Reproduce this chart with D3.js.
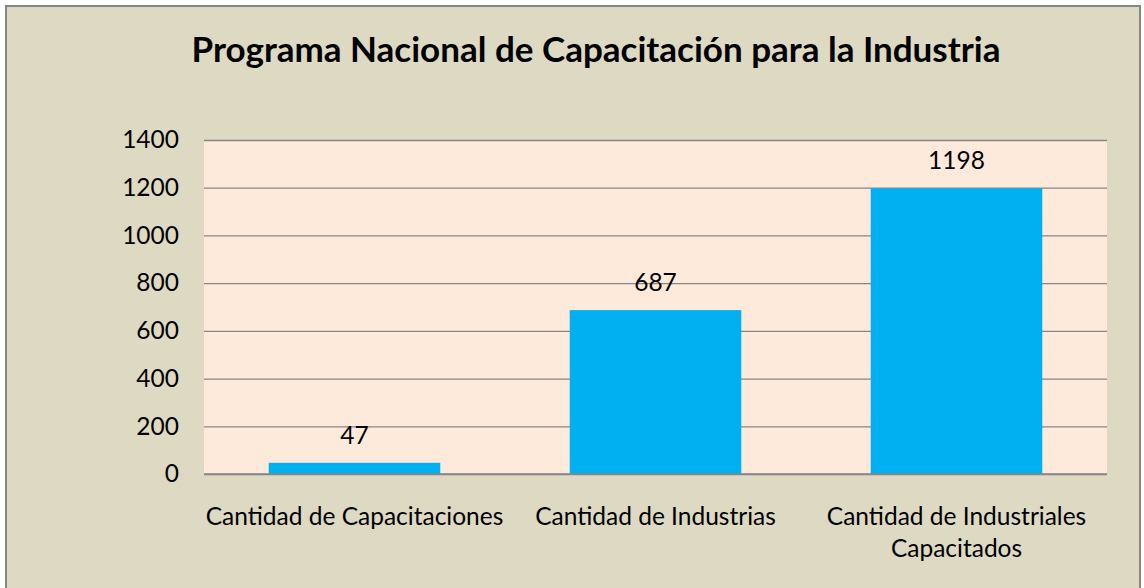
<!DOCTYPE html>
<html>
<head>
<meta charset="utf-8">
<script src="https://cdn.jsdelivr.net/npm/d3@7"></script>
<style>
  body { margin: 0; background: #fff; }
  svg { display: block; font-family: Lato, "Open Sans", sans-serif; }
</style>
</head>
<body>
<script>
// datos del grafico
const categories = [
  ["Cantidad de Capacitaciones"],
  ["Cantidad de Industrias"],
  ["Cantidad de Industriales", "Capacitados"]
];
const values = [47, 687, 1198];
const yTicks = [0, 200, 400, 600, 800, 1000, 1200, 1400];
const title = "Programa Nacional de Capacitación para la Industria";

const W = 1144, H = 588;
const margin = {top: 140, right: 37, bottom: 114, left: 204};
const width = W - margin.left - margin.right;
const height = H - margin.top - margin.bottom;
const fs = 24.5;

const svg = d3.select("body")
  .append("svg")
  .attr("width", W)
  .attr("height", H)

// fondo exterior con borde
svg.append("rect")
  .attr("x", 6)
  .attr("y", 6)
  .attr("width", 1134)
  .attr("height", 600)
  .attr("fill", "#ddd9c3")
  .attr("stroke", "#868686")
  .attr("stroke-width", 2)

svg.append("text")
  .attr("x", 596)
  .attr("y", 62)
  .attr("text-anchor", "middle")
  .attr("font-size", 35)
  .attr("font-weight", "bold")
  .attr("fill", "#000")
  .text(title)

const g = svg.append("g")
  .attr("transform", `translate(${margin.left}, ${margin.top})`)

const xScale = d3.scaleBand()
  .domain(d3.range(categories.length))
  .range([0, width])
  .paddingInner(0.43)
  .paddingOuter(0.215)

const yScale = d3.scaleLinear()
  .domain([0, 1400])
  .range([height, 0])

g.append("rect")
  .attr("width", width)
  .attr("height", height)
  .attr("fill", "#fdeada")

// lineas de cuadricula
g.append("g")
  .attr("class", "grid")
  .call(d3.axisLeft(yScale).tickValues(yTicks).tickSize(-width).tickFormat(""))
  .call(s => s.select(".domain").remove())
  .call(s => s.selectAll("line").attr("stroke", "#868686").attr("stroke-width", 1.3))

g.selectAll(".bar")
  .data(values)
  .join("rect")
  .attr("class", "bar")
  .attr("x", (d, i) => xScale(i))
  .attr("y", d => yScale(d))
  .attr("width", xScale.bandwidth())
  .attr("height", d => height - yScale(d))
  .attr("fill", "#00b0f0")

g.append("line")
  .attr("x1", 0)
  .attr("x2", width)
  .attr("y1", height)
  .attr("y2", height)
  .attr("stroke", "#868686")
  .attr("stroke-width", 1.3)

g.selectAll(".val")
  .data(values)
  .join("text")
  .attr("class", "val")
  .attr("x", (d, i) => xScale(i) + xScale.bandwidth() / 2)
  .attr("y", d => yScale(d) - 19)
  .attr("text-anchor", "middle")
  .attr("font-size", fs)
  .text(d => d)

const yAxis = g.append("g")
  .call(d3.axisLeft(yScale).tickValues(yTicks).tickSize(0).tickPadding(25).tickFormat(d3.format("d")))
yAxis.select(".domain").remove()
yAxis.selectAll("text")
  .attr("font-size", fs)
  .attr("font-family", "Lato, sans-serif")
  .attr("fill", "#000")

g.selectAll(".cat")
  .data(categories)
  .join("text")
  .attr("class", "cat")
  .attr("x", (d, i) => xScale(i) + xScale.bandwidth() / 2)
  .attr("y", height + 51)
  .attr("text-anchor", "middle")
  .attr("font-size", fs)
  .selectAll("tspan")
  .data(d => d)
  .join("tspan")
  .attr("x", function() { return this.parentNode.getAttribute("x") })
  .attr("dy", (d, i) => i === 0 ? 0 : 32)
  .text(d => d)
</script>
</body>
</html>
